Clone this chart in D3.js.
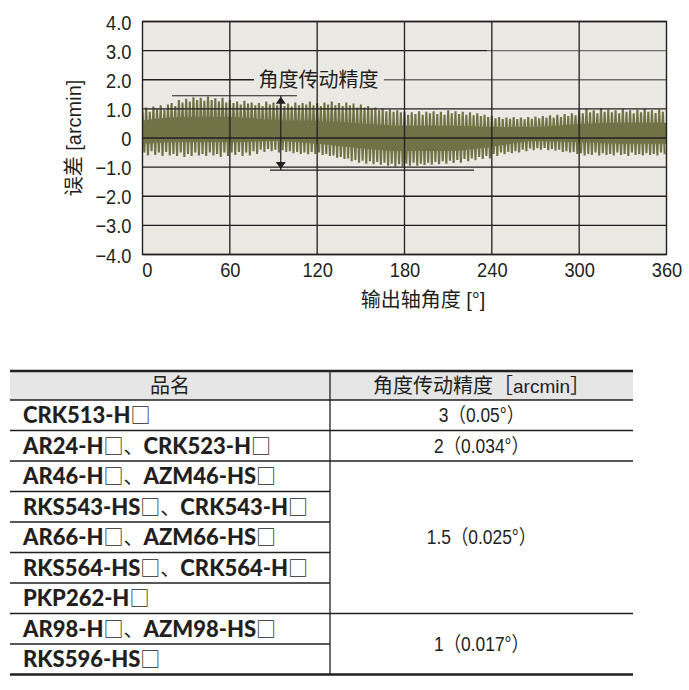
<!DOCTYPE html>
<html><head><meta charset="utf-8">
<script src="https://cdn.jsdelivr.net/npm/d3@7"></script>
<style>
body{margin:0;background:#fff;}
svg{display:block;}
</style></head>
<body>
<svg id="chart" width="689" height="690"></svg>
<script>
// ---------- data ----------
const xTicks = [0, 60, 120, 180, 240, 300, 360];
const yTicks = [4, 3, 2, 1, 0, -1, -2, -3, -4];
const yTickLabels = ["4.0", "3.0", "2.0", "1.0", "0", "\u22121.0", "\u22122.0", "\u22123.0", "\u22124.0"];
const sampleStep = 2.5; // degrees between successive peaks
// upper spike tips (arcmin), one per cycle
const peaks = [
 0.95,1.05,0.9,1.08,1.0,1.12,0.98,1.15,
 1.2,1.1,1.3,1.22,1.35,1.25,1.4,1.3,
 1.38,1.28,1.42,1.3,1.36,1.25,1.38,1.22,
 1.3,1.2,1.25,1.15,1.28,1.18,1.22,1.12,
 1.2,1.1,1.25,1.15,1.22,1.12,1.2,1.1,
 1.18,1.08,1.22,1.12,1.2,1.15,1.25,1.12,
 1.2,1.1,1.22,1.15,1.25,1.12,1.2,1.1,
 1.22,1.12,1.18,1.05,1.15,1.05,1.1,1.0,
 1.05,0.95,1.0,0.92,0.98,0.9,0.95,0.88,
 0.9,0.8,0.88,0.82,0.92,0.8,0.9,0.85,
 0.92,0.82,0.9,0.8,0.95,0.85,0.92,0.82,
 0.9,0.8,0.88,0.78,0.85,0.75,0.8,0.72,
 0.75,0.68,0.72,0.65,0.7,0.66,0.72,0.65,
 0.7,0.64,0.72,0.66,0.74,0.68,0.75,0.7,
 0.78,0.7,0.8,0.72,0.82,0.75,0.85,0.78,
 0.95,0.85,1.0,0.88,0.95,0.85,1.02,0.9,
 0.98,0.88,0.95,0.85,1.0,0.9,0.95,0.85,
 0.98,0.88,1.0,0.9,0.95,0.86,0.98,0.9
];
// lower spike tips (arcmin), one per cycle
const troughs = [
 -0.5,-0.6,-0.45,-0.58,-0.5,-0.62,-0.48,-0.6,
 -0.55,-0.62,-0.5,-0.65,-0.55,-0.62,-0.5,-0.6,
 -0.55,-0.62,-0.5,-0.6,-0.55,-0.65,-0.5,-0.62,
 -0.5,-0.58,-0.48,-0.62,-0.5,-0.6,-0.45,-0.55,
 -0.4,-0.48,-0.38,-0.45,-0.4,-0.5,-0.42,-0.48,
 -0.45,-0.52,-0.48,-0.55,-0.5,-0.56,-0.48,-0.55,
 -0.5,-0.58,-0.55,-0.62,-0.6,-0.68,-0.65,-0.72,
 -0.7,-0.8,-0.75,-0.85,-0.78,-0.88,-0.8,-0.9,
 -0.82,-0.92,-0.85,-0.95,-0.88,-0.98,-0.9,-0.98,
 -0.88,-0.95,-0.85,-0.95,-0.88,-0.93,-0.85,-0.92,
 -0.82,-0.9,-0.8,-0.88,-0.78,-0.86,-0.75,-0.85,
 -0.72,-0.8,-0.7,-0.76,-0.65,-0.72,-0.62,-0.7,
 -0.55,-0.62,-0.5,-0.56,-0.48,-0.52,-0.45,-0.5,
 -0.4,-0.45,-0.36,-0.42,-0.35,-0.4,-0.34,-0.42,
 -0.38,-0.44,-0.4,-0.48,-0.45,-0.5,-0.48,-0.55,
 -0.52,-0.6,-0.55,-0.58,-0.5,-0.6,-0.52,-0.58,
 -0.55,-0.6,-0.5,-0.58,-0.55,-0.62,-0.5,-0.58,
 -0.55,-0.6,-0.52,-0.58,-0.55,-0.6,-0.5,-0.56
];
// solid core band of the error trace (arcmin), every 30 degrees
const coreAngles = [0, 30, 60, 90, 120, 150, 180, 210, 240, 270, 300, 330, 360];
const coreTop    = [0.6, 0.72, 0.72, 0.62, 0.58, 0.5, 0.42, 0.42, 0.38, 0.38, 0.48, 0.52, 0.52];
const coreBottom = [-0.2, -0.15, -0.15, -0.1, -0.2, -0.35, -0.45, -0.45, -0.3, -0.1, -0.15, -0.2, -0.2];

const annotationLabel = "角度传动精度";
const accuracyTop = 1.45, accuracyBottom = -1.1, accuracyAt = 95;
const xTitle = "输出轴角度 [°]";
const yTitle = "误差 [arcmin]";

const tableHeaders = ["品名", "角度传动精度［arcmin］"];
const models = ["CRK513-H□", "AR24-H□、CRK523-H□", "AR46-H□、AZM46-HS□", "RKS543-HS□、CRK543-H□",
  "AR66-H□、AZM66-HS□", "RKS564-HS□、CRK564-H□", "PKP262-H□", "AR98-H□、AZM98-HS□", "RKS596-HS□"];
const accuracyLabels = ["3（0.05°）", "2（0.034°）", "1.5（0.025°）", "1（0.017°）"];
const accuracySpans = [1, 1, 5, 2];

// ---------- chart ----------
const svg = d3.select("#chart");
const M = {left: 142.5, top: 21.5, right: 666.5, bottom: 254.5};
const x = d3.scaleLinear().domain([0, 360]).range([M.left, M.right]);
const y = d3.scaleLinear().domain([-4, 4]).range([M.bottom, M.top]);
const ink = "#231f20";
const olive = "#727247";
const latin = "'Liberation Sans',Arial,sans-serif";
const cjk = "'Liberation Sans','Noto Sans CJK SC',sans-serif";
const SX = 0.87;

svg.append("rect").attr("x", M.left).attr("y", M.top)
  .attr("width", M.right - M.left).attr("height", M.bottom - M.top).attr("fill", "#eae9e3");

svg.append("clipPath").attr("id", "plotclip").append("rect")
  .attr("x", M.left).attr("y", M.top).attr("width", M.right - M.left).attr("height", M.bottom - M.top);

const core = coreAngles.map((a, i) => [a, coreTop[i], coreBottom[i]]);
svg.append("path").attr("clip-path", "url(#plotclip)")
  .attr("d", d3.area().x(d => x(d[0])).y0(d => y(d[2])).y1(d => y(d[1])).curve(d3.curveMonotoneX)(core))
  .attr("fill", olive);

const pts = [];
peaks.forEach((p, i) => {
  pts.push([i * sampleStep, p]);
  pts.push([i * sampleStep + sampleStep / 2, troughs[i]]);
});
svg.append("path").attr("clip-path", "url(#plotclip)")
  .attr("d", d3.line().x(d => x(d[0])).y(d => y(d[1]))(pts))
  .attr("fill", "none").attr("stroke", olive).attr("stroke-width", 2.1)
  .attr("stroke-linejoin", "miter");

// grid
const grid = svg.append("g");
const gl = (x1, x2, y1, y2, c) => grid.append("line").attr("x1", x1).attr("x2", x2).attr("y1", y1).attr("y2", y2)
  .attr("stroke", c || ink).attr("stroke-width", 1.3);
yTicks.forEach(t => {
  if (t === 2 || t === 3) return;
  gl(M.left, M.right, y(t), y(t));
});
gl(M.left, 487, y(3), y(3));
gl(487, M.right, y(3), y(3), "#6e6e6e");
gl(M.left, 254, y(2), y(2));
gl(384, M.right, y(2), y(2), "#6e6e6e");
xTicks.slice(1, -1).forEach(t => gl(x(t), x(t), M.top, M.bottom));
svg.append("rect").attr("x", M.left).attr("y", M.top)
  .attr("width", M.right - M.left).attr("height", M.bottom - M.top)
  .attr("fill", "none").attr("stroke", ink).attr("stroke-width", 1.4);

// axes labels via d3 axes (no domain/tick lines)
const yAxis = svg.append("g").attr("transform", `translate(${M.left - 11},0)`)
  .call(d3.axisLeft(y).tickValues(yTicks).tickSize(0).tickFormat((d, i) => yTickLabels[i]));
yAxis.select(".domain").remove();
yAxis.selectAll("text").attr("font-family", latin).attr("font-size", 21).attr("fill", ink)
  .attr("dy", "0.36em").attr("x", 0).attr("transform", `scale(${SX},1)`);

const xAxis = svg.append("g").attr("transform", `translate(0,${M.bottom + 8})`)
  .call(d3.axisBottom(x).tickValues(xTicks).tickSize(0).tickFormat(d => d));
xAxis.select(".domain").remove();
xAxis.selectAll("text").attr("font-family", latin).attr("font-size", 21).attr("fill", ink)
  .attr("dy", "0.71em").attr("y", 0).attr("transform", `scale(${SX},1)`);
xAxis.selectAll(".tick").filter(d => d === 0).select("text").attr("dx", 5);

svg.append("text").attr("x", 423).attr("y", 307).attr("text-anchor", "middle")
  .attr("font-family", cjk).attr("font-size", 20).attr("fill", ink).text(xTitle);
svg.append("text").attr("transform", "translate(81,138) rotate(-90)").attr("text-anchor", "middle")
  .attr("font-family", cjk).attr("font-size", 20).attr("fill", ink).text(yTitle);

// annotation
svg.append("text").attr("x", 318.5).attr("y", y(2)).attr("dy", "0.36em").attr("text-anchor", "middle")
  .attr("font-family", "'Noto Sans CJK SC',sans-serif").attr("font-size", 20).attr("fill", ink)
  .text(annotationLabel);
const ax = x(accuracyAt);
const ty = y(accuracyTop), by = y(accuracyBottom);
svg.append("line").attr("x1", 172).attr("x2", 297).attr("y1", ty).attr("y2", ty).attr("stroke", ink).attr("stroke-width", 1.2);
svg.append("line").attr("x1", 270).attr("x2", 474).attr("y1", by).attr("y2", by).attr("stroke", ink).attr("stroke-width", 1.2);
svg.append("line").attr("x1", ax).attr("x2", ax).attr("y1", ty).attr("y2", by).attr("stroke", ink).attr("stroke-width", 1.2);
svg.append("path").attr("d", `M${ax},${ty + 1}L${ax - 5},${ty + 8}L${ax + 5},${ty + 8}Z`).attr("fill", ink);
svg.append("path").attr("d", `M${ax},${by - 1}L${ax - 5},${by - 8}L${ax + 5},${by - 8}Z`).attr("fill", ink);

// ---------- table ----------
const T = {left: 10, mid: 330, right: 633, top: 371, headH: 29, rowH: 30.5};
const t = svg.append("g");
t.append("rect").attr("x", T.left).attr("y", T.top).attr("width", T.right - T.left).attr("height", T.headH)
  .attr("fill", "#e6e6e6");
const rowsTop = T.top + T.headH;
const bottom = rowsTop + models.length * T.rowH;
t.append("line").attr("x1", T.mid).attr("x2", T.mid).attr("y1", T.top).attr("y2", bottom).attr("stroke", ink).attr("stroke-width", 1.3);
t.append("line").attr("x1", T.left).attr("x2", T.right).attr("y1", rowsTop).attr("y2", rowsTop).attr("stroke", ink).attr("stroke-width", 1.3);
const groupEnds = [];
let acc = 0;
accuracySpans.forEach(s => { acc += s; groupEnds.push(acc); });
models.forEach((m, i) => {
  if (i === models.length - 1) return;
  const yy = rowsTop + (i + 1) * T.rowH;
  const full = groupEnds.includes(i + 1);
  t.append("line").attr("x1", T.left).attr("x2", full ? T.right : T.mid).attr("y1", yy).attr("y2", yy)
    .attr("stroke", ink).attr("stroke-width", 1.3);
});
t.append("line").attr("x1", T.left).attr("x2", T.right).attr("y1", T.top).attr("y2", T.top).attr("stroke", ink).attr("stroke-width", 2.6);
t.append("line").attr("x1", T.left).attr("x2", T.right).attr("y1", bottom).attr("y2", bottom).attr("stroke", ink).attr("stroke-width", 2.6);

// header texts
t.append("text").attr("x", (T.left + T.mid) / 2).attr("y", T.top + T.headH / 2).attr("dy", "0.36em")
  .attr("text-anchor", "middle").attr("font-family", "'Noto Sans CJK SC',sans-serif").attr("font-size", 20).attr("fill", ink).text(tableHeaders[0]);
const hdr = t.append("text").attr("transform", `translate(${(T.mid + T.right) / 2},${T.top + T.headH / 2})`)
  .attr("dy", "0.36em").attr("text-anchor", "middle").attr("font-size", 20).attr("fill", ink);
tableHeaders[1].split(/(arcmin)/).forEach(seg => {
  if (!seg) return;
  hdr.append("tspan").attr("font-family", seg === "arcmin" ? latin : "'Noto Sans CJK SC',sans-serif")
    .attr("font-size", seg === "arcmin" ? 19 : 20).text(seg);
});

// model names: bold latin, box and comma from CJK font
models.forEach((m, i) => {
  const tx = t.append("text").attr("x", 23).attr("y", rowsTop + (i + 0.5) * T.rowH).attr("dy", "0.36em")
    .attr("font-size", 22).attr("fill", ink);
  m.split(/([□、])/).forEach(seg => {
    if (!seg) return;
    if (seg === "□" || seg === "、") {
      tx.append("tspan").attr("font-family", "'Noto Sans CJK SC',sans-serif").attr("font-weight", 400)
        .attr("font-size", 20).text(seg);
    } else {
      tx.append("tspan").attr("font-family", "Lato,sans-serif").attr("font-weight", 900).text(seg);
    }
  });
});

// accuracy values, condensed
let start = 0;
accuracyLabels.forEach((lab, i) => {
  const yc = rowsTop + (start + accuracySpans[i] / 2) * T.rowH;
  t.append("text").attr("transform", `translate(${(T.mid + T.right) / 2},${yc}) scale(${SX},1)`)
    .attr("dy", "0.36em").attr("text-anchor", "middle").attr("font-family", cjk)
    .attr("font-size", 20).attr("fill", ink).text(lab);
  start += accuracySpans[i];
});
</script>
</body></html>
